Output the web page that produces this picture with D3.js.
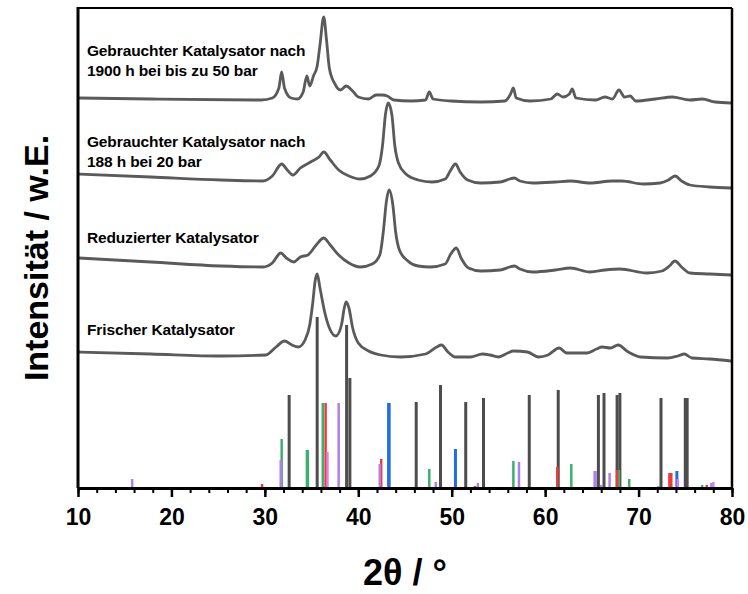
<!DOCTYPE html>
<html><head><meta charset="utf-8">
<script src="https://cdn.jsdelivr.net/npm/d3@7"></script>
<style>
body{margin:0;background:#fff;}
text{font-family:"Liberation Sans",Arial,sans-serif;font-weight:bold;fill:#000;}
</style></head>
<body><svg id="c" width="748" height="594"></svg>
<script>
// X-axis
const xDomain = [10, 80];
const xMajorTicks = [10, 20, 30, 40, 50, 60, 70, 80];
const xMinorTicks = d3.range(10, 81, 2);
const xLabel = "2θ / °";
const yLabel = "Intensität / w.E.";

// Measured patterns (2θ, intensity incl. offset, a.u.)
const usedLong = [[10.1,390],[17.8,389],[29.6,388],[30.8,390],[31.5,400],[31.8,416],[32.1,400],[32.8,390],[33.5,389],[34.1,396],[34.5,412],[34.8,402],[35.2,412],[35.6,422],[35.9,443],[36.3,471],[36.6,448],[36.9,420],[37.5,404],[38.1,398],[38.7,402],[39.4,397],[40.0,391],[41.1,389],[41.9,393],[42.6,393],[43.1,392],[43.8,388],[45.6,387],[47.2,388],[47.6,396],[48.0,389],[49.9,387],[53.1,386],[55.7,387],[56.3,394],[56.6,400],[56.9,390],[58.4,387],[60.6,389],[61.3,394],[61.9,391],[62.6,394],[62.9,399],[63.3,390],[65.4,388],[66.4,391],[67.2,389],[67.9,398],[68.5,391],[69.1,392],[69.7,387],[71.8,389],[73.6,391],[75.5,388],[76.8,389],[78.2,386],[79.9,385]];
const used188 = [[10.1,314],[17.8,311],[25.3,308],[29.8,307],[30.8,312],[31.8,324],[32.4,318],[33.0,313],[33.8,320],[34.9,326],[35.8,331],[36.3,336],[37.0,328],[37.9,318],[39.0,312],[40.2,309],[41.3,312],[42.2,322],[42.6,343],[42.9,373],[43.2,385],[43.6,373],[43.9,343],[44.3,325],[45.1,314],[46.4,308],[47.9,306],[49.3,309],[49.9,318],[50.4,324],[50.9,316],[51.7,308],[53.1,305],[55.2,306],[56.2,309],[56.7,310],[57.3,307],[58.7,305],[61.1,306],[62.7,307],[64.8,305],[67.2,307],[68.2,307],[70.5,304],[72.3,305],[73.2,308],[73.9,312],[74.6,307],[75.5,303],[77.6,301],[79.9,300]];
const reduced = [[10.1,230],[17.8,226],[25.3,222],[29.8,221],[30.8,225],[31.7,235],[32.3,230],[33.1,226],[33.8,231],[34.6,233],[35.5,243],[36.3,250],[37.0,243],[37.9,233],[39.0,225],[40.2,221],[41.5,224],[42.3,233],[42.7,258],[43.0,286],[43.3,298],[43.7,283],[44.0,256],[44.4,238],[45.3,227],[46.4,222],[47.7,221],[49.3,224],[49.9,234],[50.5,240],[51.0,230],[51.8,220],[53.1,217],[55.2,218],[56.2,221],[56.7,222],[57.3,219],[58.7,216],[61.1,218],[62.7,220],[64.8,216],[66.4,218],[68.0,219],[70.9,215],[72.5,217],[73.3,222],[73.9,227],[74.6,221],[75.5,215],[77.6,214],[79.9,213]];
const fresh = [[10.1,136],[17.8,134],[25.3,132],[30.1,133],[31.2,141],[32.1,147],[32.9,143],[33.6,141],[34.3,148],[34.8,163],[35.1,183],[35.4,208],[35.6,214],[35.9,200],[36.4,176],[37.0,158],[37.6,152],[38.2,163],[38.5,180],[38.7,186],[39.0,180],[39.4,160],[40.0,145],[41.1,137],[42.4,133],[44.5,131],[47.2,134],[48.4,141],[48.9,143],[49.6,136],[50.4,131],[52.0,131],[53.3,134],[54.1,133],[55.0,131],[56.0,135],[56.6,137],[58.1,136],[59.3,131],[60.3,133],[61.5,140],[62.3,135],[64.5,135],[65.5,139],[66.1,141],[67.0,140],[67.8,143],[68.9,136],[70.2,131],[73.1,130],[74.2,132],[74.9,134],[75.7,130],[77.6,129],[79.9,127]];
const seriesNames = [["Gebrauchter Katalysator nach","1900 h bei bis zu 50 bar"],["Gebrauchter Katalysator nach","188 h bei 20 bar"],["Reduzierter Katalysator"],["Frischer Katalysator"]];
const seriesLabelPos = [[10.95,432],[10.95,341],[10.95,245],[10.95,153]]; // (2θ, intensity) of first baseline

// Reference stick patterns (2θ, intensity)
const refGray = [[32.6,93],[35.6,171],[38.75,163],[39.1,110],[46.2,86],[48.8,103],[51.5,86],[53.4,90],[58.3,93],[61.4,98],[65.7,93],[66.3,95],[67.7,93],[68.0,95],[72.4,90],[75.0,90],[75.2,90]];
const refGreen = [[31.8,49],[34.5,38],[34.6,38],[36.2,85],[47.6,19],[56.6,27],[62.8,24],[67.9,18],[69.0,9],[72.5,1],[76.8,3]];
const refRed = [[29.7,4],[36.5,85],[42.45,29],[52.5,2],[61.3,21],[67.7,18],[73.3,15],[73.5,15],[77.3,3]];
const refBlue = [[43.25,85],[43.3,85],[50.4,39],[74.1,17]];
const refPurple = [[15.8,9],[31.7,28],[37.9,85],[42.3,24],[48.3,6],[52.8,5],[57.2,26],[65.3,17],[65.4,17],[66.0,3],[66.9,15],[72.1,2],[77.8,5]];
const refPink = [[36.7,36],[74.2,9],[78.0,6]];

const W = 748, H = 594;
const m = {l:78, r:732, t:8, b:488};
const svg = d3.select("#c");
const x = d3.scaleLinear().domain(xDomain).range([m.l, m.r]);
const y = d3.scaleLinear().domain([0, 480]).range([m.b, m.t]);

// sticks
const sticks = [[refGray,"#4d4d4d",3],[refGreen,"#3cb070",2.5],[refRed,"#f03a3a",2.5],[refBlue,"#1f6fe0",3],[refPurple,"#b17fe8",2.5],[refPink,"#e67ae6",2.5]];
sticks.forEach(([data,col,w])=>{
  svg.append("g").selectAll("line").data(data).join("line")
    .attr("x1",d=>x(d[0])).attr("x2",d=>x(d[0]))
    .attr("y1",y(0)).attr("y2",d=>y(d[1]))
    .attr("stroke",col).attr("stroke-width",w);
});

// curves
const line = d3.line().x(d=>x(d[0])).y(d=>y(d[1])).curve(d3.curveMonotoneX);
[usedLong, used188, reduced, fresh].forEach(s=>{
  svg.append("path").datum(s).attr("d",line)
    .attr("fill","none").attr("stroke","#5a5a5a").attr("stroke-width",2.8).attr("stroke-linejoin","round");
});

// series labels
seriesNames.forEach((lines,i)=>{
  const p = seriesLabelPos[i];
  lines.forEach((t,j)=>{
    svg.append("text").attr("x",x(p[0])).attr("y",y(p[1]) + j*20)
      .attr("font-size",15.5).attr("letter-spacing","-0.1").text(t);
  });
});

// frame
svg.append("line").attr("x1",m.l).attr("x2",m.r).attr("y1",m.t).attr("y2",m.t).attr("stroke","#000").attr("stroke-width",2);
svg.append("line").attr("x1",m.r).attr("x2",m.r).attr("y1",m.t).attr("y2",m.b).attr("stroke","#000").attr("stroke-width",2.5);
svg.append("line").attr("x1",m.l).attr("x2",m.l).attr("y1",m.t-1).attr("y2",m.b).attr("stroke","#000").attr("stroke-width",3);

// x axis
const gMinor = svg.append("g").attr("transform",`translate(0,${m.b})`)
  .call(d3.axisBottom(x).tickValues(xMinorTicks).tickSize(5).tickFormat(""));
gMinor.select(".domain").remove();
gMinor.selectAll("line").attr("stroke","#000").attr("stroke-width",2);
const gMaj = svg.append("g").attr("transform",`translate(0,${m.b})`)
  .call(d3.axisBottom(x).tickValues(xMajorTicks).tickSize(9).tickPadding(12).tickSizeOuter(0));
gMaj.select(".domain").attr("stroke","#000").attr("stroke-width",3);
gMaj.selectAll("line").attr("stroke","#000").attr("stroke-width",2.5);
gMaj.selectAll("text").attr("font-size",23).attr("font-family","'Liberation Sans',Arial,sans-serif").attr("font-weight","bold").attr("fill","#000");

// axis titles
svg.append("text").attr("x",(m.l+m.r)/2).attr("y",585).attr("text-anchor","middle")
  .attr("font-size",36).text(xLabel);
svg.append("text").attr("transform",`translate(48,${(m.t+m.b)/2 + 10}) rotate(-90)`)
  .attr("text-anchor","middle").attr("font-size",34).text(yLabel);
</script></body></html>
